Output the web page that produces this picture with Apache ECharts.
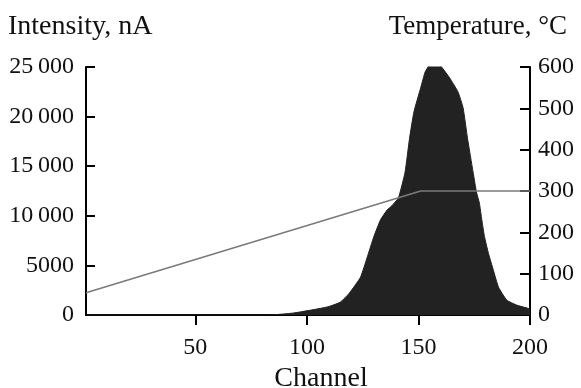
<!DOCTYPE html>
<html>
<head>
<meta charset="utf-8">
<script src="https://cdn.jsdelivr.net/npm/echarts@6/dist/echarts.min.js"></script>
<style>
  html, body { margin: 0; padding: 0; background: #fff; }
  #chart { width: 581px; height: 388px; }
</style>
</head>
<body>
<div id="chart"></div>
<script>
// intensity profile: [channel, nA]
const intensity = [
  [1, 0], [83, 0], [94, 200], [109, 800], [115, 1300], [119, 2200],
  [124, 3800], [127, 5800], [130, 7900], [133, 9600], [136, 10600],
  [138, 11000], [141, 11800], [144, 14400], [146, 17800], [148, 20500],
  [151, 22900], [153, 24500], [155, 25200], [158, 25300], [160, 25100],
  [164, 23900], [167.7, 22500], [170, 20900], [172, 17800], [174.5, 14400],
  [176, 12400], [177.3, 11300], [178.4, 9600], [179.6, 7900], [181.4, 6200],
  [183.6, 4500], [185.9, 2800], [189.6, 1500], [194, 1000], [198.7, 700],
  [200, 600]
];
// heating ramp: [channel, degC]
const temperature = [[1, 54], [151, 300], [200, 300]];

const xTicks = [50, 100, 150, 200];
const font = 'Liberation Serif';

// 25 000 style grouping for five-digit numbers
const fmtLeft = v => v >= 10000 ? String(v).replace(/(\d+)(\d{3})$/, '$1\u2009$2') : String(v);

const chart = echarts.init(document.getElementById('chart'));
chart.setOption({
  backgroundColor: '#fff',
  animation: false,
  title: [
    { text: 'Intensity, nA', left: 3, top: 8,
      textStyle: { fontFamily: font, fontSize: 28, fontWeight: 'normal', color: '#111' } },
    { text: 'Temperature, °C', right: 9, top: 8,
      textStyle: { fontFamily: font, fontSize: 27, fontWeight: 'normal', color: '#111' } }
  ],
  grid: { left: 86, right: 51, top: 67, bottom: 73, containLabel: false, outerBoundsMode: 'none' },
  xAxis: {
    type: 'value', min: 1, max: 200,
    name: 'Channel', nameLocation: 'middle', nameGap: 45,
    nameTextStyle: { fontFamily: font, fontSize: 28, color: '#111', padding: [0, 0, 0, 26] },
    splitLine: { show: false },
    axisLine: { show: true, lineStyle: { color: '#000', width: 2 } },
    axisTick: { show: true, customValues: xTicks, length: 10, lineStyle: { color: '#000', width: 2 } },
    axisLabel: { customValues: xTicks, margin: 21, fontFamily: font, fontSize: 24, color: '#111' }
  },
  yAxis: [
    {
      type: 'value', min: 0, max: 25000, interval: 5000, position: 'left',
      splitLine: { show: false },
      axisLine: { show: true, lineStyle: { color: '#000', width: 2 } },
      axisTick: { show: true, inside: true, length: 9, lineStyle: { color: '#000', width: 2 } },
      axisLabel: { margin: 12, fontFamily: font, fontSize: 24, color: '#111', formatter: fmtLeft }
    },
    {
      type: 'value', min: 0, max: 600, interval: 100, position: 'right',
      splitLine: { show: false },
      axisLine: { show: true, lineStyle: { color: '#000', width: 2 } },
      axisTick: { show: true, inside: true, length: 10, lineStyle: { color: '#000', width: 2 } },
      axisLabel: { margin: 8, fontFamily: font, fontSize: 24, color: '#111' }
    }
  ],
  series: [
    {
      name: 'Intensity', type: 'line', yAxisIndex: 0, data: intensity,
      showSymbol: false, smooth: 0.15,
      lineStyle: { color: '#222', width: 1 },
      areaStyle: { color: '#222', opacity: 1 }
    },
    {
      name: 'Temperature', type: 'line', yAxisIndex: 1, data: temperature,
      showSymbol: false,
      lineStyle: { color: '#7a7a7a', width: 1.6 }
    }
  ]
});
</script>
</body>
</html>
